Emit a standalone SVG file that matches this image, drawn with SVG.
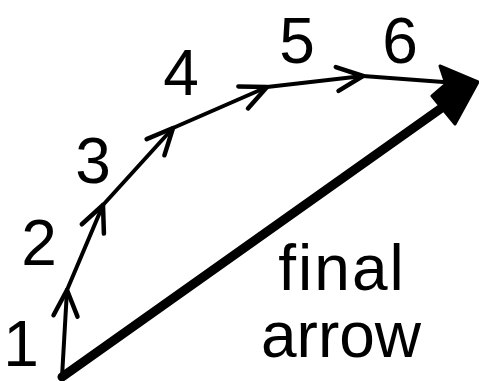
<svg xmlns="http://www.w3.org/2000/svg" width="479" height="381" viewBox="0 0 479 381">
<style>
.v{fill:none;stroke:#000;stroke-width:4;stroke-linecap:round;stroke-linejoin:round}
.lbl{font-family:"Liberation Sans",Arial,sans-serif;font-size:64px;fill:#000;text-anchor:middle}
</style>
<defs>
<marker id="open" markerUnits="userSpaceOnUse" viewBox="-30 -16 34 32" refX="0" refY="0" markerWidth="34" markerHeight="32" orient="auto" overflow="visible">
<path d="M-26,-12 L0,0 L-26,12" fill="none" stroke="#000" stroke-width="4.5" stroke-linecap="round" stroke-linejoin="round"/>
</marker>
</defs>
<rect width="479" height="381" fill="#fff"/>
<g id="connectors">
<path class="v" d="M62,377 L67,290" marker-end="url(#open)"/>
<path class="v" d="M67,290 L103,205" marker-end="url(#open)"/>
<path class="v" d="M103,205 L173,128" marker-end="url(#open)"/>
<path class="v" d="M173,128 L267,87" marker-end="url(#open)"/>
<path class="v" d="M267,87 L363,76" marker-end="url(#open)"/>
<path class="v" d="M363,76 L470,84"/>
<g id="final-arrow">
<path d="M62,377 L450,102" fill="none" stroke="#000" stroke-width="9" stroke-linecap="round"/>
<path d="M478,82 L440,66 L446,84 L432,96 L455,124 Z" fill="#000" stroke="#000" stroke-width="3" stroke-linejoin="round"/>
</g>
</g>
<g id="label-1"><text class="lbl" x="21" y="366" font-size="58">1</text></g>
<g id="label-2"><text class="lbl" x="39" y="265">2</text></g>
<g id="label-3"><text class="lbl" x="93" y="183">3</text></g>
<g id="label-4"><text class="lbl" x="181" y="95">4</text></g>
<g id="label-5"><text class="lbl" x="297" y="63">5</text></g>
<g id="label-6"><text class="lbl" x="400" y="63">6</text></g>
<g id="label-final"><text class="lbl" x="342" y="290" letter-spacing="2">final</text><text class="lbl" x="341" y="357">arrow</text></g>
</svg>
